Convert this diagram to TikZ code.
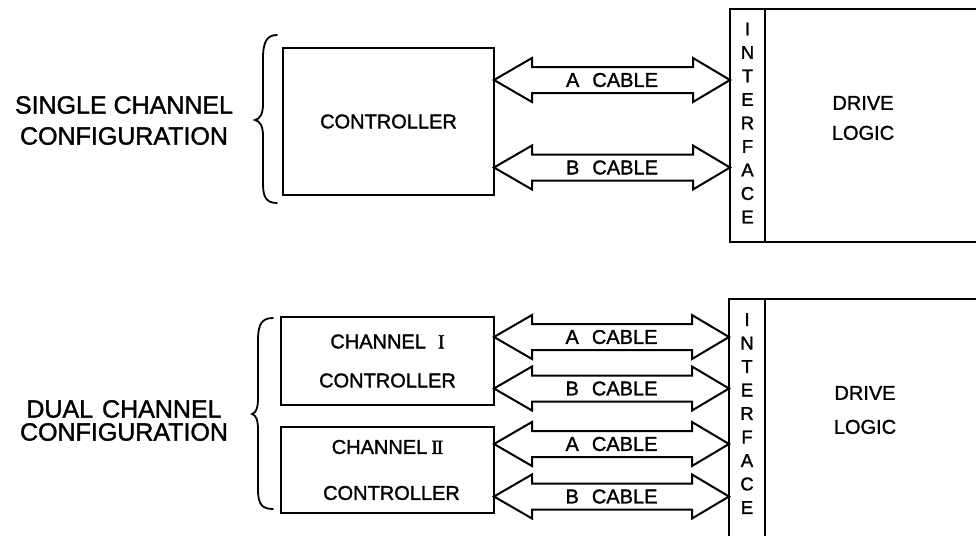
\documentclass[tikz,border=0pt]{standalone}
\usepackage{fontspec}
\setmainfont{Liberation Sans}[FakeBold=1.4]
\newfontfamily\romanfont{Liberation Serif}[FakeBold=1.6]
\usetikzlibrary{calc}

% Double-headed block arrow carrying a cable between two named nodes.
% #1 name, #2 left node, #3 right node, #4 vertical position, #5 label
\newcommand\cablearrow[5]{%
  \coordinate (#1y) at (0,#4);
  \coordinate (#1l) at (#2.east |- #1y);
  \coordinate (#1r) at (#3.west |- #1y);
  \draw[cable] (#1l) -- ++(38,-22) -- ++(0,9) -- ($(#1r)+(-37,-13)$)
    -- ++(0,-9) -- (#1r) -- ++(-37,22) -- ++(0,-9) -- ($(#1l)+(38,13)$)
    -- ++(0,9) -- cycle;
  \node[cabletext] (#1) at ($(#1l)!0.5!(#1r)$) {#5};
}

\begin{document}
\begin{tikzpicture}[x=1pt,y=-1pt,
  box/.style={draw, line width=2.8pt, outer sep=0pt, inner sep=0pt},
  lbl/.style={font=\fontsize{20}{24}\selectfont, align=center, inner sep=0pt},
  cabletext/.style={font=\fontsize{20}{24}\selectfont, inner sep=0pt},
  ifletters/.style={font=\fontsize{18.5}{23.5}\selectfont, align=center, inner sep=0pt},
  side/.style={font=\fontsize{25}{31}\selectfont, align=center, inner sep=0pt},
  cable/.style={draw, line width=2pt, line join=miter},
  bracestroke/.style={draw, line width=1.8pt, line cap=round}]
\useasboundingbox (0,0) rectangle (976,535);
\clip (0,0) rectangle (976,535);

%% ---------- single channel configuration ----------
\node[box, minimum width=211pt, minimum height=147pt, lbl] (ctrl) at (388.5,121.5) {CONTROLLER};
\node[box, minimum width=35pt, minimum height=233pt] (ifA) at (747.5,125.5) {};
\node[box, minimum width=240pt, minimum height=233pt, anchor=west] (drvA) at (ifA.east) {};
\node[ifletters] (ifAtxt) at (747.5,123) {I\\N\\T\\E\\R\\F\\A\\C\\E};
\node[lbl, font=\fontsize{20}{30}\selectfont] (dlA) at (863,118) {DRIVE\\LOGIC};

\cablearrow{ca1}{ctrl}{ifA}{80}{A\hspace{13pt}CABLE}
\cablearrow{cb1}{ctrl}{ifA}{167.5}{B\hspace{13pt}CABLE}

\draw[bracestroke] (277,35) .. controls (267,35) and (263,42) .. (263,58)
  -- (263,104) .. controls (263,114) and (260,119) .. (255,120)
  .. controls (260,121) and (263,126) .. (263,136)
  -- (263,184) .. controls (263,198) and (267,203) .. (277,203);
\node[side] (single) at (124,120.5) {SINGLE CHANNEL\\CONFIGURATION};

%% ---------- dual channel configuration ----------
\node[box, minimum width=213pt, minimum height=88pt, lbl,
      font=\fontsize{20}{39}\selectfont] (ch1) at (387.5,361)
  {CHANNEL\hspace{12pt}{\romanfont I}\\CONTROLLER};
\node[box, minimum width=213pt, minimum height=86pt, lbl,
      font=\fontsize{20}{46}\selectfont] (ch2) at (387.5,470)
  {CHANNEL\hspace{4pt}{\romanfont I\kern-1.4pt I}\\\hspace{8pt}CONTROLLER};
\node[box, minimum width=36pt, minimum height=261pt] (ifB) at (747,429.5) {};
\node[box, minimum width=240pt, minimum height=261pt, anchor=west] (drvB) at (ifB.east) {};
\node[ifletters] (ifBtxt) at (747,413.5) {I\\N\\T\\E\\R\\F\\A\\C\\E};
\node[lbl, font=\fontsize{20}{34}\selectfont] (dlB) at (865,410) {DRIVE\\LOGIC};

\cablearrow{ca2}{ch1}{ifB}{337}{A\hspace{13pt}CABLE}
\cablearrow{cb2}{ch1}{ifB}{388.5}{B\hspace{13pt}CABLE}
\cablearrow{ca3}{ch2}{ifB}{444}{A\hspace{13pt}CABLE}
\cablearrow{cb3}{ch2}{ifB}{496.5}{B\hspace{13pt}CABLE}

\draw[bracestroke] (273,318) .. controls (262,318) and (258,324) .. (258,340)
  -- (258,398) .. controls (258,408) and (256,413) .. (252,414)
  .. controls (256,415) and (258,420) .. (258,430)
  -- (258,490) .. controls (258,504) and (262,509) .. (273,509);
\node[side, font=\fontsize{25}{23}\selectfont] (dual) at (124,420.5) {DUAL\hspace{9pt}CHANNEL\\CONFIGURATION};
\end{tikzpicture}
\end{document}
